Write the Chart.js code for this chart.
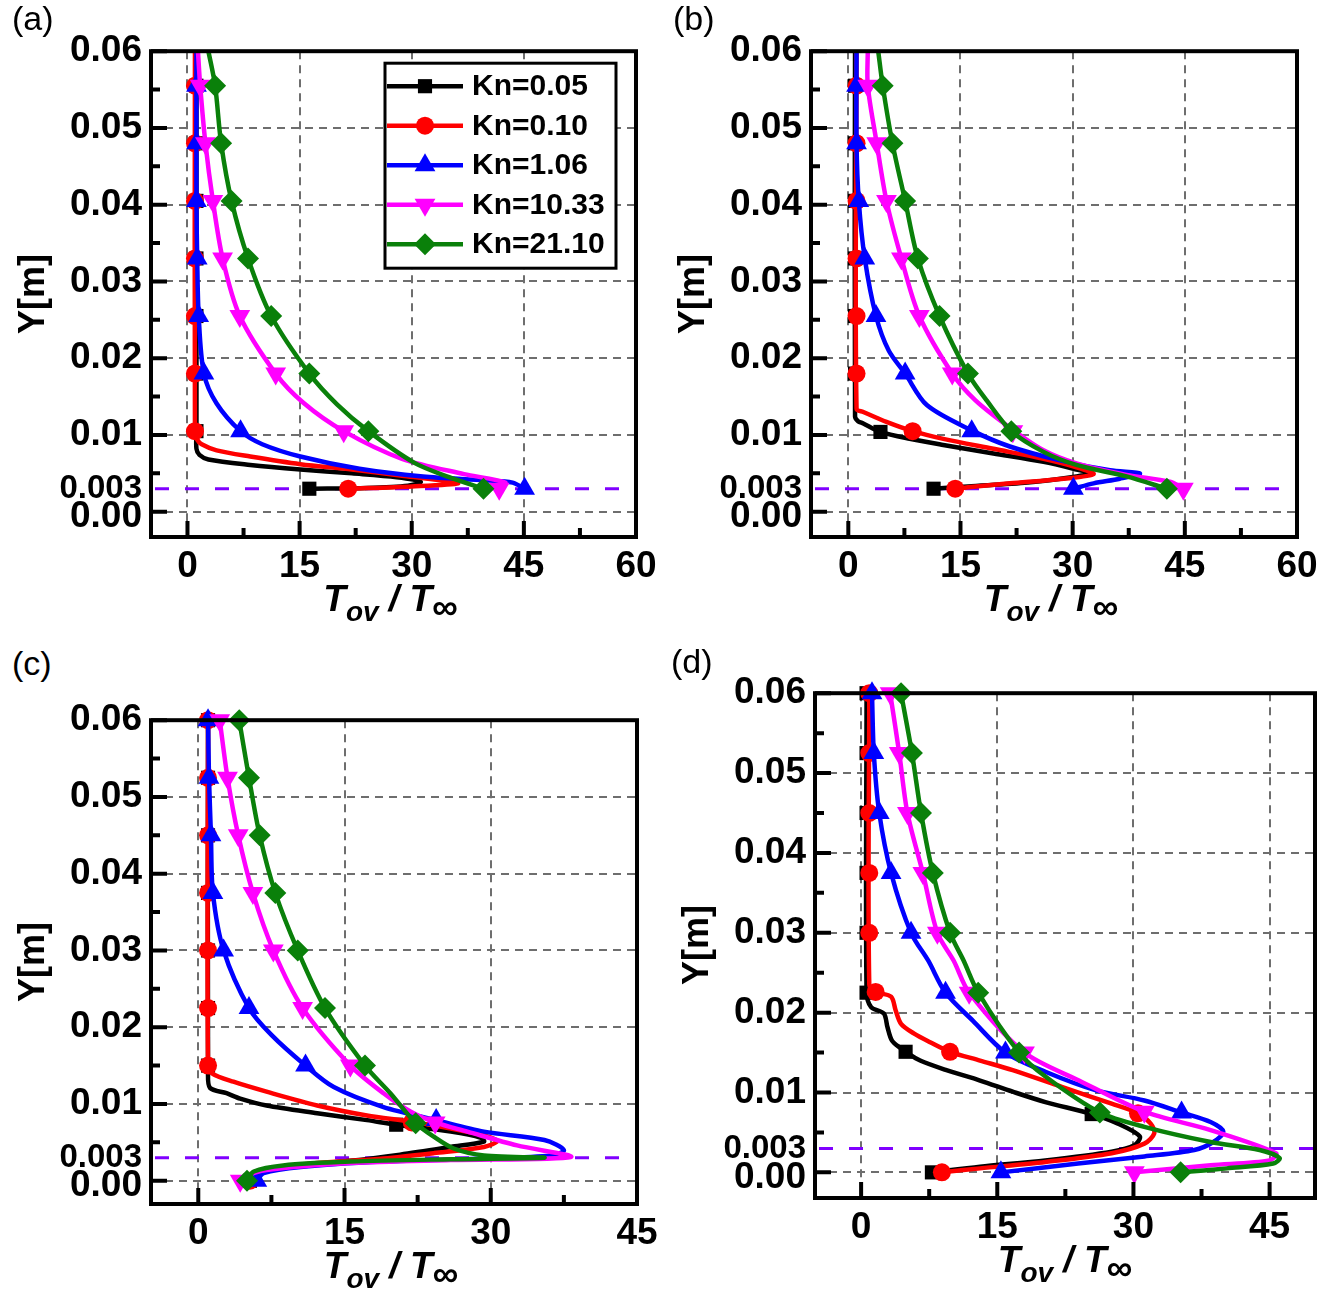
<!DOCTYPE html>
<html>
<head>
<meta charset="utf-8">
<title>Tov / Tinf profiles</title>
<script src="https://cdn.jsdelivr.net/npm/chart.js@4.4.0/dist/chart.umd.min.js"></script>
<style>
  html, body { margin: 0; padding: 0; background: #fff; overflow: hidden; }
  body { width: 1327px; height: 1291px; position: relative; font-family: "Liberation Sans", Arial, sans-serif; color: #000; }
  canvas { position: absolute; }
  .tag { position: absolute; font-size: 34px; line-height: 34px; }
  .ytitle { position: absolute; font-size: 36px; font-weight: bold; line-height: 36px; white-space: nowrap; transform: translate(-50%, -50%) rotate(-90deg); }
  .xtitle { position: absolute; font-size: 37px; line-height: 37px; font-weight: bold; font-style: italic; white-space: nowrap; transform: translateX(-50%); }
  .xtitle .sub { font-size: 28px; line-height: 0; position: relative; top: 10px; }
  .xtitle .inf { font-size: 36px; line-height: 0; position: relative; top: 8px; }
</style>
</head>
<body>
<script>
'use strict';

// ticks shared by the four panels
var yTicks = [0, 0.003, 0.01, 0.02, 0.03, 0.04, 0.05, 0.06];
var yMinorTicks = [0.005, 0.015, 0.025, 0.035, 0.045, 0.055];
var xTicksWide = [0, 15, 30, 45, 60];
var xTicksNarrow = [0, 15, 30, 45];
var refLineY = 0.003;

var seriesLabels = ['Kn=0.05', 'Kn=0.10', 'Kn=1.06', 'Kn=10.33', 'Kn=21.10'];

// (a)  [T_ov/T_inf, Y]
var aLineK005 = [[1.2,0.06],[1.2,0.0105],[1.2,0.0082],[1.6,0.0074],[2.8,0.0068],[8.4,0.0061],[15.1,0.0055],[22,0.005],[28,0.0045],[31.2,0.0039],[29.5,0.0034],[24,0.0031],[16.3,0.003]];
var aMarkK005 = [[1.2,0.0555],[1.2,0.048],[1.2,0.0405],[1.2,0.033],[1.2,0.0255],[1.2,0.018],[1.2,0.0105],[16.3,0.003]];
var aLineK010 = [[1.0,0.06],[1.0,0.0105],[1.3,0.0094],[1.9,0.0088],[3.9,0.008],[8.4,0.0072],[15.1,0.0062],[22,0.0055],[28.7,0.0047],[33,0.0042],[36.2,0.0037],[30,0.0033],[21.5,0.003]];
var aMarkK010 = [[1.0,0.0555],[1.0,0.048],[1.0,0.0405],[1.0,0.033],[1.0,0.0255],[1.0,0.018],[1.0,0.0105],[21.5,0.003]];
var aLineK106 = [[1.2,0.06],[1.2,0.0405],[1.3,0.033],[1.5,0.0255],[2.2,0.018],[3.9,0.0141],[7.1,0.0105],[10,0.0088],[15.1,0.0072],[23,0.0056],[31.5,0.0046],[39.9,0.0041],[43.5,0.0038],[45.1,0.003]];
var aMarkK106 = [[1.2,0.0555],[1.2,0.048],[1.2,0.0405],[1.3,0.033],[1.5,0.0255],[2.2,0.018],[7.1,0.0105],[45.1,0.003]];
var aLineK1033 = [[1.4,0.06],[1.7,0.0555],[2.4,0.048],[3.4,0.0405],[4.7,0.033],[7.0,0.0255],[11.8,0.018],[15.5,0.0142],[20.9,0.0105],[28.7,0.0069],[37,0.0049],[42.5,0.0038],[41.7,0.003]];
var aMarkK1033 = [[1.7,0.0555],[2.4,0.048],[3.4,0.0405],[4.7,0.033],[7.0,0.0255],[11.8,0.018],[20.9,0.0105],[41.7,0.003]];
var aLineK2110 = [[2.8,0.06],[3.7,0.0555],[4.5,0.048],[5.9,0.0405],[8.1,0.033],[11.2,0.0255],[16.3,0.018],[20,0.014],[24.2,0.0105],[30.3,0.0064],[35,0.0045],[39.6,0.003]];
var aMarkK2110 = [[3.7,0.0555],[4.5,0.048],[5.9,0.0405],[8.1,0.033],[11.2,0.0255],[16.3,0.018],[24.2,0.0105],[39.6,0.003]];

// (b)
var bLineK005 = [[0.9,0.06],[0.9,0.0124],[1.3,0.0118],[2.0,0.0115],[4.3,0.0104],[8.2,0.0095],[12.7,0.0087],[19.4,0.0076],[26.1,0.0065],[30.1,0.0056],[32.3,0.005],[30.5,0.0046],[24,0.0038],[16,0.0033],[11.4,0.003]];
var bMarkK005 = [[0.9,0.0555],[0.9,0.048],[0.9,0.0405],[0.9,0.033],[0.9,0.0255],[0.9,0.018],[4.3,0.0104],[11.4,0.003]];
var bLineK010 = [[1.1,0.06],[1.1,0.0134],[2.0,0.013],[5.1,0.0117],[8.6,0.0105],[12.7,0.0095],[19.4,0.0082],[26.1,0.0069],[30.5,0.0058],[32.8,0.0049],[28.8,0.0043],[21.6,0.0037],[16,0.0032],[14.3,0.003]];
var bMarkK010 = [[1.1,0.0555],[1.1,0.048],[1.1,0.0405],[1.1,0.033],[1.1,0.0255],[1.1,0.018],[8.6,0.0105],[14.3,0.003]];
var bLineK106 = [[1.1,0.06],[1.1,0.048],[1.4,0.0405],[2.2,0.033],[3.7,0.0255],[5.4,0.021],[7.6,0.018],[10.5,0.0139],[16.5,0.0106],[21.6,0.0085],[28.3,0.0067],[35,0.0054],[39,0.005],[36.3,0.0043],[32.8,0.0037],[30.1,0.003]];
var bMarkK106 = [[1.1,0.0555],[1.1,0.048],[1.4,0.0405],[2.2,0.033],[3.7,0.0255],[7.6,0.018],[16.5,0.0105],[30.1,0.003]];
var bLineK1033 = [[2.6,0.06],[2.6,0.0555],[3.8,0.048],[5.1,0.0405],[7.1,0.033],[9.5,0.0255],[13.9,0.018],[17,0.0145],[21.8,0.0108],[26.1,0.008],[30.5,0.0063],[37.2,0.0048],[43,0.0039],[44.8,0.003]];
var bMarkK1033 = [[2.6,0.0555],[3.8,0.048],[5.1,0.0405],[7.1,0.033],[9.5,0.0255],[13.9,0.018],[22,0.0105],[44.8,0.003]];
var bLineK2110 = [[4.0,0.06],[4.6,0.0555],[5.9,0.048],[7.6,0.0405],[9.3,0.033],[12.2,0.0255],[16,0.018],[18.5,0.0145],[21.8,0.0105],[26.1,0.0078],[30.5,0.0061],[37.2,0.0046],[42.6,0.003]];
var bMarkK2110 = [[4.6,0.0555],[5.9,0.048],[7.6,0.0405],[9.3,0.033],[12.2,0.0255],[16,0.018],[21.8,0.0105],[42.6,0.003]];

// (c)
var cLineK005 = [[1.0,0.06],[1.0,0.014],[1.2,0.0121],[2.9,0.0114],[4.3,0.0107],[7.0,0.0098],[12.2,0.0088],[17.3,0.0079],[20.3,0.0073],[25.9,0.0064],[29,0.0056],[29.3,0.0051],[25.9,0.0044],[20.7,0.0034],[15.6,0.0026],[8.7,0.0018],[6.0,0.001],[5.3,0]];
var cMarkK005 = [[1.0,0.06],[1.0,0.0525],[1.0,0.045],[1.0,0.0375],[1.0,0.03],[1.0,0.0225],[1.0,0.015],[20.3,0.0073],[5.3,0]];
var cLineK010 = [[1.0,0.06],[1.0,0.015],[1.4,0.014],[3.6,0.0129],[7.0,0.0116],[12.2,0.0098],[17.3,0.0085],[21.8,0.0077],[25.9,0.0068],[29.3,0.0059],[30.7,0.0052],[29.3,0.0044],[24.2,0.0036],[19,0.0029],[12.2,0.0023],[7.0,0.0014],[5.7,0.0005],[5.3,0]];
var cMarkK010 = [[1.0,0.06],[1.0,0.0525],[1.0,0.045],[1.0,0.0375],[1.0,0.03],[1.0,0.0225],[1.0,0.015],[21.9,0.0076],[5.3,0]];
var cLineK106 = [[1.0,0.06],[1.1,0.0525],[1.3,0.045],[1.5,0.0375],[2.6,0.03],[5.2,0.0225],[7.5,0.019],[11.0,0.015],[13.9,0.0122],[19,0.0096],[24.4,0.0079],[29.3,0.0064],[35.5,0.0053],[37.5,0.004],[36.2,0.0033],[29.3,0.0029],[19,0.0025],[10.5,0.0018],[6.7,0.001],[6.0,0]];
var cMarkK106 = [[1.0,0.06],[1.1,0.0525],[1.3,0.045],[1.5,0.0375],[2.6,0.03],[5.2,0.0225],[11.0,0.015],[24.4,0.0079],[6.0,0]];
var cLineK1033 = [[2.2,0.06],[3.0,0.0525],[4.1,0.045],[5.6,0.0375],[7.7,0.03],[10.7,0.0225],[15.6,0.015],[19,0.0114],[21.8,0.009],[24.3,0.0076],[27.6,0.0064],[32.7,0.0046],[38.2,0.0031],[25.9,0.0027],[15.6,0.0023],[7.0,0.0014],[4.6,0.0005],[4.3,0]];
var cMarkK1033 = [[2.2,0.06],[3.0,0.0525],[4.1,0.045],[5.6,0.0375],[7.7,0.03],[10.7,0.0225],[15.6,0.015],[24.3,0.0076],[4.3,0]];
var cLineK2110 = [[4.2,0.06],[5.2,0.0525],[6.3,0.045],[7.9,0.0375],[10.2,0.03],[13.0,0.0225],[17.1,0.015],[19.7,0.0114],[22.3,0.0075],[24.2,0.0057],[26.2,0.0042],[29.3,0.0033],[35.5,0.003],[25.9,0.0028],[15.6,0.0025],[8.7,0.002],[5.7,0.0012],[5.0,0]];
var cMarkK2110 = [[4.2,0.06],[5.2,0.0525],[6.3,0.045],[7.9,0.0375],[10.2,0.03],[13.0,0.0225],[17.1,0.015],[22.3,0.0075],[5.0,0]];

// (d)
var dLineK005 = [[0.6,0.06],[0.6,0.0226],[1.1,0.0207],[2.5,0.0199],[2.9,0.0182],[3.4,0.0165],[4.4,0.0155],[4.9,0.0151],[6.5,0.014],[9.4,0.0128],[13.1,0.0115],[16.7,0.0101],[20.3,0.0088],[25.4,0.0073],[28.3,0.0061],[30.7,0.0045],[30.1,0.0034],[27.6,0.0026],[20.3,0.0015],[13.1,0.0007],[7.8,0]];
var dMarkK005 = [[0.6,0.06],[0.6,0.0525],[0.6,0.045],[0.6,0.0375],[0.6,0.03],[0.6,0.0225],[4.9,0.0151],[25.4,0.0073],[7.8,0]];
var dLineK010 = [[0.9,0.06],[0.9,0.0235],[1.6,0.0226],[3.3,0.022],[3.8,0.0203],[4.4,0.0186],[5.8,0.0174],[7.6,0.0163],[9.8,0.0151],[13.1,0.014],[16.7,0.0128],[22.1,0.0107],[27.6,0.0086],[30.5,0.0074],[31.9,0.0061],[32.3,0.0049],[31.2,0.0036],[27.6,0.0024],[20.3,0.0013],[13.1,0.0005],[8.9,0]];
var dMarkK010 = [[0.9,0.06],[0.9,0.0525],[0.9,0.045],[0.9,0.0375],[0.9,0.03],[1.6,0.0226],[9.8,0.0151],[30.5,0.0074],[8.9,0]];
var dLineK106 = [[1.2,0.06],[1.4,0.0525],[2.0,0.045],[3.3,0.0375],[5.5,0.03],[7.4,0.0265],[9.3,0.0225],[12.3,0.019],[15.9,0.015],[20.3,0.0126],[25.8,0.0103],[31.2,0.009],[35.3,0.0075],[38.5,0.0063],[39.9,0.0051],[38.8,0.0038],[36.7,0.0028],[31.2,0.002],[23.9,0.0011],[15.4,0]];
var dMarkK106 = [[1.2,0.06],[1.4,0.0525],[2.0,0.045],[3.3,0.0375],[5.5,0.03],[9.3,0.0225],[15.9,0.015],[35.3,0.0075],[15.4,0]];
var dLineK1033 = [[3.2,0.06],[4.2,0.0525],[5.1,0.045],[6.8,0.0375],[8.4,0.03],[10.2,0.0265],[11.9,0.0225],[18.0,0.015],[24,0.0115],[31.2,0.0076],[38.5,0.0053],[45.7,0.0024],[45,0.0015],[38.5,0.0009],[30.1,0]];
var dMarkK1033 = [[3.2,0.06],[4.2,0.0525],[5.1,0.045],[6.8,0.0375],[8.4,0.03],[11.9,0.0225],[18.0,0.015],[31.2,0.0076],[30.1,0]];
var dLineK2110 = [[4.4,0.06],[5.6,0.0525],[6.6,0.045],[7.9,0.0375],[9.8,0.03],[11.3,0.0265],[12.9,0.0225],[17.4,0.015],[20.3,0.012],[26.3,0.0075],[31.2,0.0057],[38.5,0.0038],[43.9,0.0028],[46.1,0.0018],[45.4,0.0011],[40.3,0.0005],[35.2,0]];
var dMarkK2110 = [[4.4,0.06],[5.6,0.0525],[6.6,0.045],[7.9,0.0375],[9.8,0.03],[12.9,0.0225],[17.4,0.015],[26.3,0.0075],[35.2,0]];

var seriesColors = ['#000000', '#ff0000', '#0000ff', '#ff00ff', '#0a800a'];
var seriesPoint = [
    {style: 'rect', radius: 10, rotation: 0},
    {style: 'circle', radius: 9, rotation: 0},
    {style: 'triangle', radius: 12, rotation: 0},
    {style: 'triangle', radius: 12, rotation: 180},
    {style: 'rectRot', radius: 11, rotation: 0}
];

// area = chart area in page pixels: left, top, right, bottom
var panels = [
    {tag: '(a)', tagPos: [12, 1], area: [151, 50, 636, 537], xRange: [-4.88, 60], yRange: [-0.00329, 0.06], xTicks: xTicksWide,
     lines: [aLineK005, aLineK010, aLineK106, aLineK1033, aLineK2110], marks: [aMarkK005, aMarkK010, aMarkK106, aMarkK1033, aMarkK2110], legend: true, padRight: 30},
    {tag: '(b)', tagPos: [673, 1], area: [811, 50, 1297, 537], xRange: [-4.99, 60], yRange: [-0.00329, 0.06], xTicks: xTicksWide,
     lines: [bLineK005, bLineK010, bLineK106, bLineK1033, bLineK2110], marks: [bMarkK005, bMarkK010, bMarkK106, bMarkK1033, bMarkK2110], legend: false, padRight: 30},
    {tag: '(c)', tagPos: [12, 646], area: [151, 719, 637, 1204], xRange: [-4.85, 45], yRange: [-0.00303, 0.06], xTicks: xTicksNarrow,
     lines: [cLineK005, cLineK010, cLineK106, cLineK1033, cLineK2110], marks: [cMarkK005, cMarkK010, cMarkK106, cMarkK1033, cMarkK2110], legend: false, padRight: 30},
    {tag: '(d)', tagPos: [671, 644], area: [815, 692, 1321, 1198], xRange: [-5.08, 50], yRange: [-0.00321, 0.06], xTicks: xTicksNarrow,
     lines: [dLineK005, dLineK010, dLineK106, dLineK1033, dLineK2110], marks: [dMarkK005, dMarkK010, dMarkK106, dMarkK1033, dMarkK2110], legend: false, padRight: 6}
];

var FONT = '"Liberation Sans", Arial, sans-serif';
var GRID = '#6e6e6e';
Chart.defaults.font.family = FONT;
Chart.defaults.color = '#000';

function toXY(arr) {
    return arr.map(function (p) { return {x: p[0], y: p[1]}; });
}

// purple dashed reference line at Y = 0.003
var refLinePlugin = {
    id: 'refLine',
    beforeDatasetsDraw: function (chart) {
        var ctx = chart.ctx, a = chart.chartArea;
        var py = chart.scales.y.getPixelForValue(refLineY);
        ctx.save();
        ctx.strokeStyle = '#8000ff';
        ctx.lineWidth = 3;
        ctx.setLineDash([14, 16]);
        ctx.beginPath();
        ctx.moveTo(a.left + 4, py);
        ctx.lineTo(a.right, py);
        ctx.stroke();
        ctx.restore();
    }
};

// thick frame plus inward ticks on left and bottom
var framePlugin = {
    id: 'frame',
    afterDatasetsDraw: function (chart, args, opts) {
        var ctx = chart.ctx, a = chart.chartArea;
        var sx = chart.scales.x, sy = chart.scales.y;
        ctx.save();
        ctx.strokeStyle = '#000';
        ctx.lineWidth = 4;
        ctx.strokeRect(a.left, a.top, a.right - a.left, a.bottom - a.top);
        ctx.beginPath();
        yTicks.forEach(function (v) {
            if (v === refLineY) return;
            var p = sy.getPixelForValue(v);
            ctx.moveTo(a.left, p); ctx.lineTo(a.left + 16, p);
        });
        yMinorTicks.forEach(function (v) {
            var p = sy.getPixelForValue(v);
            ctx.moveTo(a.left, p); ctx.lineTo(a.left + 9, p);
        });
        opts.xTicks.forEach(function (v) {
            var p = sx.getPixelForValue(v);
            ctx.moveTo(p, a.bottom); ctx.lineTo(p, a.bottom - 16);
            var m = v + 7.5;
            if (m < sx.max) {
                var q = sx.getPixelForValue(m);
                ctx.moveTo(q, a.bottom); ctx.lineTo(q, a.bottom - 9);
            }
        });
        ctx.stroke();
        ctx.restore();
    }
};

// boxed legend inside panel (a)
var legendPlugin = {
    id: 'knLegend',
    afterDraw: function (chart, args, opts) {
        if (!opts.show) return;
        var ctx = chart.ctx, a = chart.chartArea;
        var bx = a.left + 234, by = a.top + 12, bw = 231, bh = 205;
        ctx.save();
        ctx.fillStyle = '#fff';
        ctx.fillRect(bx, by, bw, bh);
        ctx.lineWidth = 3;
        ctx.strokeStyle = '#000';
        ctx.strokeRect(bx, by, bw, bh);
        ctx.font = 'bold 30px ' + FONT;
        ctx.textBaseline = 'middle';
        ctx.textAlign = 'left';
        var marks = chart.data.datasets.filter(function (d) { return d.isMarks; });
        marks.forEach(function (d, i) {
            var y = by + 23 + i * 39.5;
            ctx.strokeStyle = d.backgroundColor;
            ctx.lineWidth = 4.5;
            ctx.beginPath();
            ctx.moveTo(bx + 2, y);
            ctx.lineTo(bx + 78, y);
            ctx.stroke();
            ctx.fillStyle = d.backgroundColor;
            Chart.helpers.drawPoint(ctx, {pointStyle: d.pointStyle, radius: d.pointRadius, rotation: d.pointRotation, borderWidth: 0}, bx + 40, y);
            ctx.fillStyle = '#000';
            ctx.fillText(d.label, bx + 87, y + 1);
        });
        ctx.restore();
    }
};

// push the "0.00" label a little down, as in the figure
var labelNudgePlugin = {
    id: 'labelNudge',
    beforeDraw: function (chart) {
        chart.scales.y.getLabelItems().forEach(function (it) {
            if (it.label === '0.00' && !it.nudged) {
                it.options.translation[1] += 5;
                it.nudged = true;
            }
        });
    }
};

function addDiv(cls, html, left, top) {
    var d = document.createElement('div');
    d.className = cls;
    d.innerHTML = html;
    d.style.left = left + 'px';
    d.style.top = top + 'px';
    document.body.appendChild(d);
}

panels.forEach(function (p) {
    var L = p.area[0], T = p.area[1], R = p.area[2], B = p.area[3];
    var yAxisW = 140, xAxisH = 80, padTop = 30;

    var canvas = document.createElement('canvas');
    canvas.width = yAxisW + (R - L) + p.padRight;
    canvas.height = padTop + (B - T) + xAxisH;
    canvas.style.left = (L - yAxisW) + 'px';
    canvas.style.top = (T - padTop) + 'px';
    document.body.appendChild(canvas);

    var datasets = [];
    seriesLabels.forEach(function (label, i) {
        datasets.push({
            label: label,
            data: toXY(p.lines[i]),
            borderColor: seriesColors[i],
            borderWidth: 4.5,
            pointRadius: 0,
            tension: 0.3,
            fill: false,
            order: (5 - i) * 2
        });
        datasets.push({
            label: label,
            isMarks: true,
            data: toXY(p.marks[i]),
            showLine: false,
            backgroundColor: seriesColors[i],
            borderColor: seriesColors[i],
            borderWidth: 0,
            pointStyle: seriesPoint[i].style,
            pointRadius: seriesPoint[i].radius,
            pointRotation: seriesPoint[i].rotation,
            clip: false,
            order: (5 - i) * 2 - 1
        });
    });

    new Chart(canvas, {
        type: 'line',
        data: { datasets: datasets },
        plugins: [refLinePlugin, framePlugin, legendPlugin, labelNudgePlugin],
        options: {
            responsive: false,
            animation: false,
            events: [],
            layout: { padding: { left: 0, top: padTop, right: p.padRight, bottom: 0 } },
            plugins: {
                legend: { display: false },
                tooltip: { enabled: false },
                frame: { xTicks: p.xTicks },
                knLegend: { show: p.legend }
            },
            scales: {
                x: {
                    type: 'linear',
                    min: p.xRange[0],
                    max: p.xRange[1],
                    afterBuildTicks: function (s) { s.ticks = p.xTicks.map(function (v) { return {value: v}; }); },
                    afterFit: function (s) { s.height = xAxisH; },
                    grid: { drawTicks: false, color: GRID, lineWidth: 2 },
                    border: { display: false, dash: [8, 6] },
                    ticks: { autoSkip: false, maxRotation: 0, padding: 8, color: '#000',
                             font: { family: FONT, size: 37, weight: 'bold' } }
                },
                y: {
                    type: 'linear',
                    min: p.yRange[0],
                    max: p.yRange[1],
                    afterBuildTicks: function (s) { s.ticks = yTicks.map(function (v) { return {value: v}; }); },
                    afterFit: function (s) { s.width = yAxisW; },
                    grid: {
                        drawTicks: false,
                        lineWidth: 2,
                        color: function (c) { return c.tick && c.tick.value === refLineY ? 'rgba(0,0,0,0)' : GRID; }
                    },
                    border: { display: false, dash: [8, 6] },
                    ticks: {
                        autoSkip: false,
                        padding: 9,
                        color: '#000',
                        callback: function (v) { return v === refLineY ? '0.003' : v.toFixed(2); },
                        font: function (c) {
                            if (c.tick && c.tick.value === refLineY) return { family: FONT, size: 33, weight: 'bold' };
                            return { family: FONT, size: 37, weight: 'bold' };
                        }
                    }
                }
            }
        }
    });

    addDiv('tag', p.tag, p.tagPos[0], p.tagPos[1]);
    addDiv('ytitle', 'Y[m]', L - 119, (T + B) / 2);
    addDiv('xtitle', 'T<span class="sub">ov</span> / T<span class="inf">&infin;</span>', (L + R) / 2 - 3, B + 43);
});
</script>
</body>
</html>
